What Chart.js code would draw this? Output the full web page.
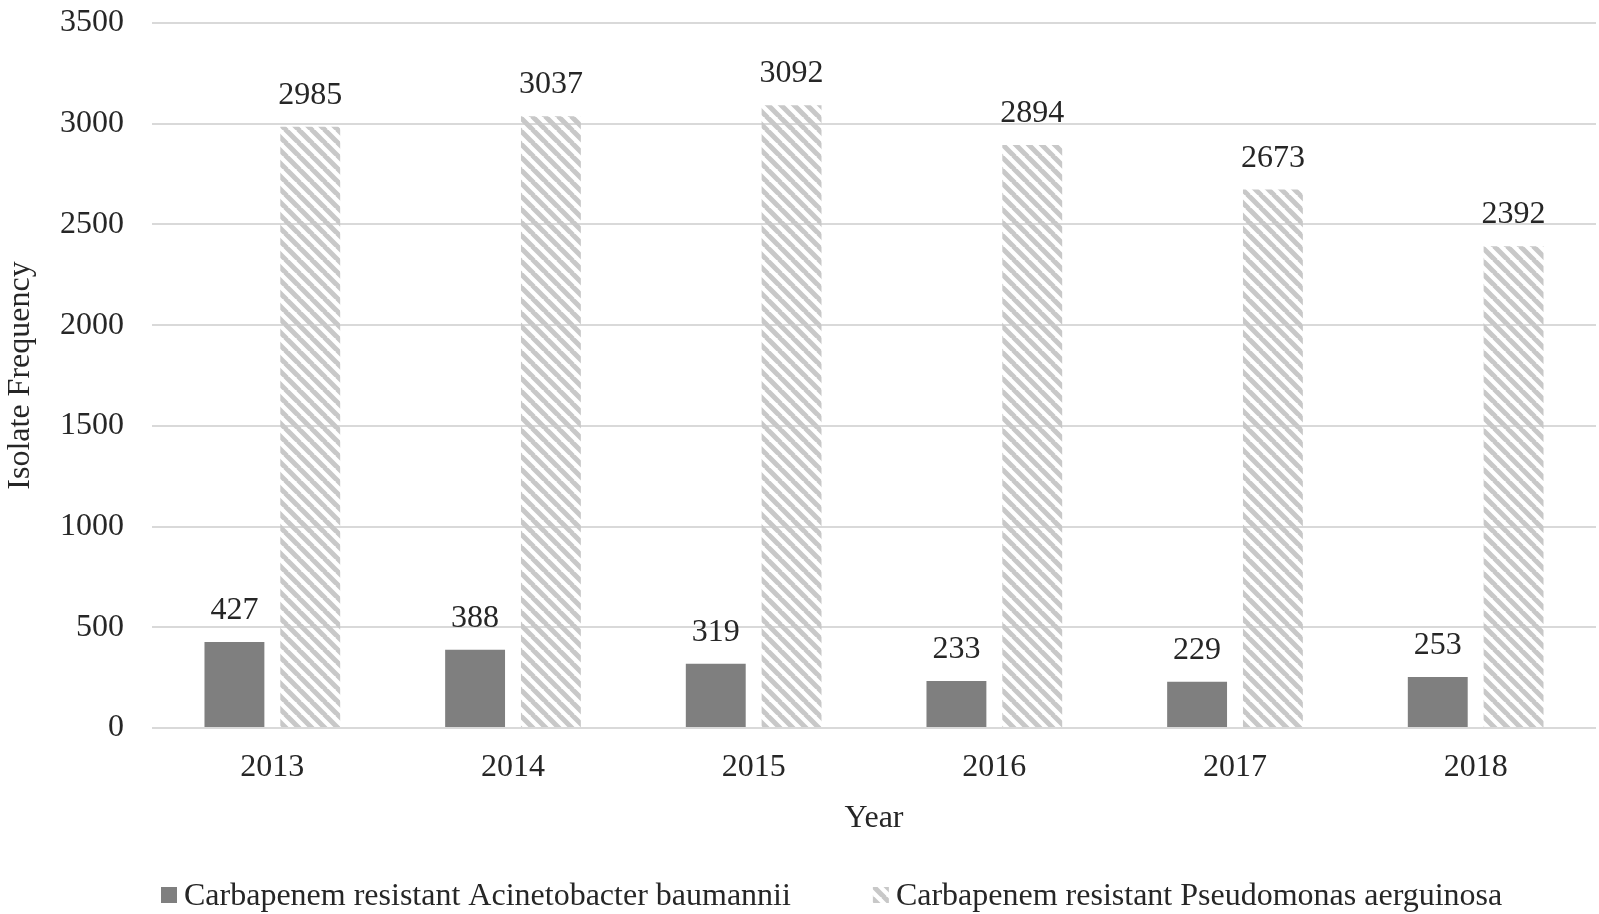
<!DOCTYPE html>
<html>
<head>
<meta charset="utf-8">
<script src="https://cdn.jsdelivr.net/npm/chart.js@4.4.1/dist/chart.umd.min.js"></script>
<style>
  body { margin: 0; background: #fff; }
  #wrap { width: 1599px; height: 914px; }
</style>
</head>
<body>
<div id="wrap"><canvas id="barChart"></canvas></div>
<script>
// data
const years = ['2013', '2014', '2015', '2016', '2017', '2018'];
const acinetobacter = [427, 388, 319, 233, 229, 253];
const pseudomonas = [2985, 3037, 3092, 2894, 2673, 2392];
const yTicks = [0, 500, 1000, 1500, 2000, 2500, 3000, 3500];
const seriesNames = [
    'Carbapenem resistant Acinetobacter baumannii',
    'Carbapenem resistant Pseudomonas aerguinosa'
];

const FONT = '"Liberation Serif", "Times New Roman", serif';
const TEXT = '#262626';

// diagonal hatch, lines running top-left -> bottom-right
function makeHatch(color, size, width) {
    const c = document.createElement('canvas');
    c.width = size;
    c.height = size;
    const g = c.getContext('2d');
    g.strokeStyle = color;
    g.lineWidth = width;
    g.beginPath();
    for (let k = -1; k <= 1; k++) {
        g.moveTo(k * size - 1, -1);
        g.lineTo(k * size + size + 1, size + 1);
    }
    g.stroke();
    return g.createPattern(c, 'repeat');
}

const hatch = makeHatch('#c8c8c8', 13, 5);

// numbers above each bar
const valueLabels = {
    id: 'valueLabels',
    afterDatasetsDraw(chart) {
        const ctx = chart.ctx;
        ctx.save();
        ctx.font = '32px ' + FONT;
        ctx.fillStyle = TEXT;
        ctx.textAlign = 'center';
        ctx.textBaseline = 'alphabetic';
        chart.data.datasets.forEach((ds, i) => {
            chart.getDatasetMeta(i).data.forEach((bar, j) => {
                ctx.fillText(ds.data[j], bar.x, bar.y - 23);
            });
        });
        ctx.restore();
    }
};

// legend line at the bottom (drawn by hand to match spacing)
const bottomLegend = {
    id: 'bottomLegend',
    afterDraw(chart) {
        const ctx = chart.ctx;
        const baseline = 905;
        ctx.save();
        ctx.font = '32px ' + FONT;
        ctx.fillStyle = TEXT;
        ctx.textBaseline = 'alphabetic';
        let x = 161;
        chart.data.datasets.forEach((ds, i) => {
            ctx.fillStyle = ds.backgroundColor;
            ctx.fillRect(x, baseline - 18, 16, 16);
            ctx.fillStyle = TEXT;
            ctx.fillText(seriesNames[i], x + 23, baseline);
            x += 23 + ctx.measureText(seriesNames[i]).width + 82;
        });
        ctx.restore();
    }
};

whenReady();

function whenReady() {
    const ctx = document.getElementById('barChart');

    new Chart(ctx, {
        type: 'bar',
        data: {
            labels: years,
            datasets: [
                {
                    label: seriesNames[0],
                    data: acinetobacter,
                    backgroundColor: '#7f7f7f'
                },
                {
                    label: seriesNames[1],
                    data: pseudomonas,
                    backgroundColor: hatch
                }
            ]
        },
        options: {
            responsive: true,
            maintainAspectRatio: false,
            animation: false,
            layout: {
                padding: { top: 0, right: 3, bottom: 76, left: 0 }
            },
            datasets: {
                bar: { barPercentage: 0.79, categoryPercentage: 0.63 }
            },
            plugins: {
                legend: { display: false },
                tooltip: { enabled: false }
            },
            scales: {
                x: {
                    afterFit: scale => {
                        scale.height = 110;
                    },
                    grid: { display: false },
                    border: { display: false },
                    ticks: {
                        color: TEXT,
                        padding: 12,
                        font: { family: FONT, size: 32 }
                    },
                    title: {
                        display: true,
                        text: 'Year',
                        color: TEXT,
                        padding: { top: 0, bottom: 0 },
                        font: { family: FONT, size: 32 }
                    }
                },
                y: {
                    min: 0,
                    max: 3500,
                    afterBuildTicks: scale => {
                        scale.ticks = yTicks.map(v => ({ value: v }));
                    },
                    afterFit: scale => {
                        scale.width = 152;
                        scale.paddingTop = 23;
                        scale.paddingBottom = 0;
                    },
                    grid: {
                        color: '#d9d9d9',
                        lineWidth: 2,
                        drawTicks: false
                    },
                    border: { display: false },
                    ticks: {
                        color: TEXT,
                        padding: 28,
                        callback: v => String(v),
                        font: { family: FONT, size: 32 }
                    },
                    title: {
                        display: true,
                        text: 'Isolate Frequency',
                        color: TEXT,
                        padding: { top: 1, bottom: 0 },
                        font: { family: FONT, size: 32 }
                    }
                }
            }
        },
        plugins: [valueLabels, bottomLegend]
    });
}
</script>
</body>
</html>
